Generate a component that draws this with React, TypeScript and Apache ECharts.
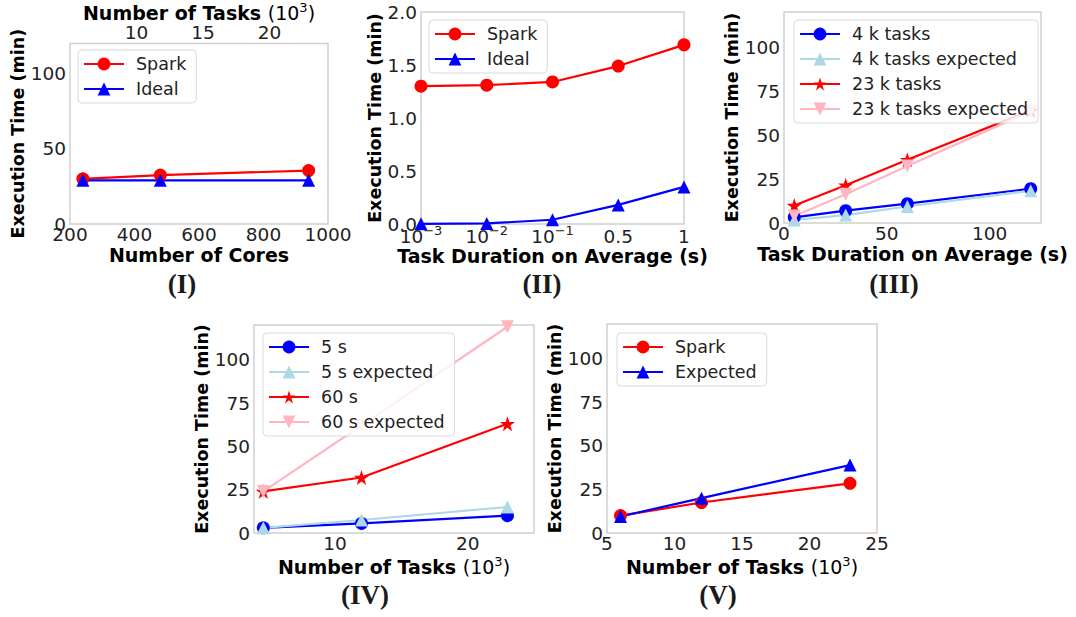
import React, { useEffect, useRef } from "react";
import * as echarts from "echarts";

// ---------- Data ----------
// (I) strong scaling vs. cores
const coresI = [240, 480, 940];
const sparkI = [30, 32.5, 35.5];
const idealI = [29, 29, 29];

// (II) tiny task durations (base, exponent) tick labels
const durationCatsII = ["1e-3", "1e-2", "1e-1", "0.5", "1"];
const sparkII = [1.3, 1.31, 1.34, 1.49, 1.69];
const idealII = [0.002, 0.005, 0.04, 0.18, 0.35];

// (III) task duration vs. time
const durationsIII = [5, 30, 60, 120];
const k4III = [3.2, 7, 11, 19.5];
const k4ExpIII = [1.7, 4.5, 9.4, 18.3];
const k23III = [10, 21.5, 36, 64];
const k23ExpIII = [4, 16.4, 32.4, 63.5];

// (IV) number of tasks vs. time
const tasksIV = [4.6, 12, 23];
const s5IV = [3, 5.5, 10];
const s5ExpIV = [3, 7.5, 15];
const s60IV = [24, 32, 63];
const s60ExpIV = [24, 62, 119];

// (V)
const tasksV = [6, 12, 23];
const sparkV = [10, 17.5, 28.5];
const expectedV = [9.5, 20, 39];

// ---------- Styles ----------
const FONT = "DejaVu Sans";
const RED = "#ff0000";
const BLUE = "#0000ff";
const LBLUE = "#add8e6";
const PINK = "#ffb6c1";
const STAR =
  "path://M50,0 L61.8,35.5 L99,35.5 L69,57.5 L80.5,93 L50,71 L19.5,93 L31,57.5 L1,35.5 L38.2,35.5 Z";

const pairs = (xs: number[], ys: number[]) => xs.map((x, i) => [x, ys[i]]);

const TICK = 18.5;
const tickStyle = { fontFamily: FONT, fontSize: TICK, color: "#222" };
const xTitleStyle = { fontFamily: FONT, fontSize: 19, fontWeight: "bold" as const, color: "#000" };
const yTitleStyle = { fontFamily: FONT, fontSize: 17.5, fontWeight: "bold" as const, color: "#000" };
const tasksName = "{b|Number of Tasks }{r|(10}{s|3}{r|)}";
const tasksRich = {
  b: { fontFamily: FONT, fontSize: 19, fontWeight: "bold", color: "#000", lineHeight: 24 },
  r: { fontFamily: FONT, fontSize: 19, fontWeight: "normal", color: "#000", lineHeight: 24 },
  s: { fontFamily: FONT, fontSize: 13, fontWeight: "normal", color: "#000", verticalAlign: "top", lineHeight: 14 },
};
const supRich = {
  b: { fontFamily: FONT, fontSize: TICK, color: "#222", lineHeight: 24 },
  s: { fontFamily: FONT, fontSize: 13, color: "#222", verticalAlign: "top", lineHeight: 14 },
};
const fmtDuration = (v: string) => {
  if (v.startsWith("1e")) return "{b|10}{s|−" + v.slice(3) + "}";
  return "{b|" + v + "}";
};

function yAx(gridIndex: number, max: number, interval: number, gap: number, fmt?: (v: number) => string) {
  return {
    type: "value",
    gridIndex,
    min: 0,
    max,
    interval,
    name: "Execution Time (min)",
    nameLocation: "middle",
    nameGap: gap,
    nameTextStyle: yTitleStyle,
    axisLine: { show: false },
    axisTick: { show: false },
    splitLine: { show: false },
    axisLabel: { ...tickStyle, margin: 4, showMaxLabel: max % interval === 0, formatter: fmt },
  };
}

function line(
  name: string,
  xi: number,
  data: any[],
  color: string,
  symbol: string,
  size = 13,
  rotate = 0
) {
  return {
    type: "line",
    name,
    xAxisIndex: xi,
    yAxisIndex: xi < 2 ? 0 : xi - 1,
    data,
    symbol,
    symbolSize: size,
    symbolRotate: rotate,
    showSymbol: true,
    clip: false,
    lineStyle: { color, width: 2.2 },
    itemStyle: { color },
    emphasis: { disabled: true },
  };
}

function legend(left: number, top: number, names: string[]) {
  return {
    orient: "vertical",
    left,
    top,
    data: names,
    selectedMode: false,
    itemWidth: 40,
    itemHeight: 16,
    itemGap: 5,
    padding: [4, 10, 4, 5],
    backgroundColor: "rgba(255,255,255,0.8)",
    borderColor: "#d9d9d9",
    borderWidth: 1,
    borderRadius: 4,
    textStyle: { fontFamily: FONT, fontSize: 17.5, color: "#222", lineHeight: 20, padding: [0, 0, 0, 7] },
  };
}

function caption(text: string, x: number, y: number) {
  return {
    type: "text",
    x,
    y,
    style: {
      text,
      font: "bold 27px 'Liberation Serif'",
      fill: "#1a1a1a",
      align: "center",
      verticalAlign: "middle",
      textAlign: "center",
      textVerticalAlign: "middle",
    },
  };
}

export default function App() {
  const ref = useRef<HTMLDivElement>(null);
  useEffect(() => {
    if (!ref.current) return;
    const chart = echarts.init(ref.current, undefined, { renderer: "svg" });
    const gridBase = { show: true, borderColor: "#d0d0d0", borderWidth: 1.5, backgroundColor: "#fff" };
    const hidden = { axisLine: { show: false }, axisTick: { show: false }, splitLine: { show: false } };
    const option: any = {
      animation: false,
      backgroundColor: "#fff",
      grid: [
        { ...gridBase, left: 70, top: 42, width: 258, height: 182 },
        { ...gridBase, left: 421, top: 12, width: 263, height: 212 },
        { ...gridBase, left: 784, top: 12, width: 257, height: 211 },
        { ...gridBase, left: 254, top: 325, width: 280, height: 208 },
        { ...gridBase, left: 607, top: 324, width: 270, height: 209 },
      ],
      xAxis: [
        {
          type: "value", gridIndex: 0, min: 200, max: 1000, interval: 200,
          name: "Number of Cores", nameLocation: "middle", nameGap: 21, nameTextStyle: xTitleStyle,
          ...hidden,
          axisLabel: { ...tickStyle, margin: 1, formatter: (v: number) => String(v) },
        },
        {
          type: "value", gridIndex: 0, position: "top", min: 5, max: 24.4,
          name: tasksName, nameLocation: "middle", nameGap: 16,
          nameTextStyle: { ...xTitleStyle, rich: tasksRich },
          ...hidden,
          axisLabel: { ...tickStyle, margin: 1, customValues: [10, 15, 20] },
        },
        {
          type: "category", gridIndex: 1, data: durationCatsII, boundaryGap: false,
          name: "Task Duration on Average (s)", nameLocation: "middle", nameGap: 21, nameTextStyle: xTitleStyle,
          ...hidden,
          axisLabel: { ...tickStyle, margin: 0, interval: 0, hideOverlap: false, formatter: fmtDuration, rich: supRich },
        },
        {
          type: "value", gridIndex: 2, min: 0, max: 125,
          name: "Task Duration on Average (s)", nameLocation: "middle", nameGap: 21, nameTextStyle: xTitleStyle,
          ...hidden,
          axisLabel: { ...tickStyle, margin: 1, customValues: [0, 50, 100] },
        },
        {
          type: "value", gridIndex: 3, min: 3.9, max: 25,
          name: tasksName, nameLocation: "middle", nameGap: 22,
          nameTextStyle: { ...xTitleStyle, rich: tasksRich },
          ...hidden,
          axisLabel: { ...tickStyle, margin: 1, customValues: [10, 20] },
        },
        {
          type: "value", gridIndex: 4, min: 5, max: 25, interval: 5,
          name: tasksName, nameLocation: "middle", nameGap: 22,
          nameTextStyle: { ...xTitleStyle, rich: tasksRich },
          ...hidden,
          axisLabel: { ...tickStyle, margin: 1 },
        },
      ],
      yAxis: [
        yAx(0, 120, 50, 40),
        yAx(1, 2, 0.5, 32, (v: number) => v.toFixed(1)),
        yAx(2, 120, 25, 38),
        yAx(3, 120, 25, 41),
        yAx(4, 120, 25, 40),
      ],
      legend: [
        legend(78, 50, ["Spark", "Ideal"]),
        legend(429, 20, ["Spark", "Ideal"]),
        legend(794, 20, ["4 k tasks", "4 k tasks expected", "23 k tasks", "23 k tasks expected"]),
        legend(263, 333, ["5 s", "5 s expected", "60 s", "60 s expected"]),
        legend(617, 333, ["Spark", "Expected"]),
      ],
      series: [
        line("Spark", 0, pairs(coresI, sparkI), RED, "circle"),
        line("Ideal", 0, pairs(coresI, idealI), BLUE, "triangle"),
        line("Spark", 2, sparkII, RED, "circle"),
        line("Ideal", 2, idealII, BLUE, "triangle"),
        line("4 k tasks", 3, pairs(durationsIII, k4III), BLUE, "circle"),
        line("4 k tasks expected", 3, pairs(durationsIII, k4ExpIII), LBLUE, "triangle"),
        line("23 k tasks", 3, pairs(durationsIII, k23III), RED, STAR, 15),
        line("23 k tasks expected", 3, pairs(durationsIII, k23ExpIII), PINK, "triangle", 13, 180),
        line("5 s", 4, pairs(tasksIV, s5IV), BLUE, "circle"),
        line("5 s expected", 4, pairs(tasksIV, s5ExpIV), LBLUE, "triangle"),
        line("60 s", 4, pairs(tasksIV, s60IV), RED, STAR, 15),
        line("60 s expected", 4, pairs(tasksIV, s60ExpIV), PINK, "triangle", 13, 180),
        line("Spark", 5, pairs(tasksV, sparkV), RED, "circle"),
        line("Expected", 5, pairs(tasksV, expectedV), BLUE, "triangle"),
      ],
      graphic: [
        caption("(I)", 182, 284),
        caption("(II)", 542, 284),
        caption("(III)", 894, 284),
        caption("(IV)", 365, 595),
        caption("(V)", 718, 595),
      ],
    };
    chart.setOption(option);
    return () => chart.dispose();
  }, []);
  return (
    <div
      ref={ref}
      style={{ position: "fixed", left: 0, top: 0, width: 1076, height: 617, background: "#fff" }}
    />
  );
}
